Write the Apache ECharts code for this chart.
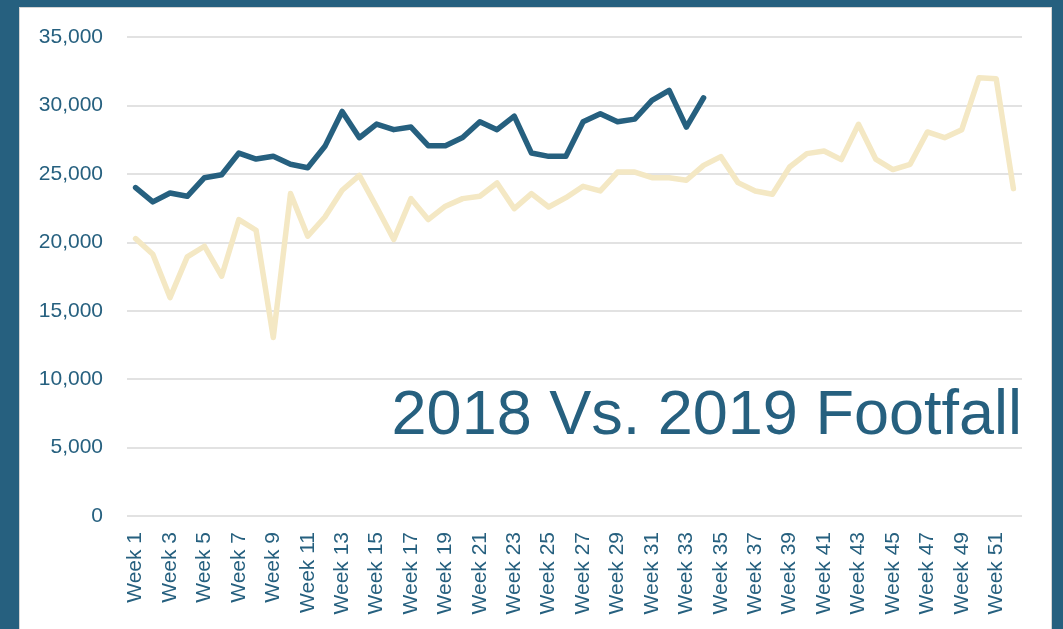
<!DOCTYPE html>
<html>
<head>
<meta charset="utf-8">
<script src="https://cdn.jsdelivr.net/npm/echarts@6/dist/echarts.min.js"></script>
<style>
  html, body { margin: 0; padding: 0; }
  body { width: 1063px; height: 629px; background: #26607f; position: relative; overflow: hidden; }
  #frame { position: absolute; left: 19px; top: 7px; width: 1031px; height: 640px; background: #fff; border: 1px solid #d4d4d4; }
  #main { position: absolute; left: 0; top: 0; width: 1063px; height: 629px; }
</style>
</head>
<body>
<div id="frame"></div>
<div id="main"></div>
<script>
// weeks 1..52
var weeks = []
for (var w = 1; w <= 52; w++) weeks.push('Week ' + w)

// 2019 footfall (only up to week 34)
var footfall2019 = [24000, 22950, 23600, 23360, 24720, 24940, 26520, 26080, 26280, 25700,
  25450, 27010, 29560, 27640, 28640, 28230, 28420, 27060, 27060, 27650,
  28810, 28230, 29220, 26520, 26280, 26280, 28810, 29400, 28810, 29000,
  30370, 31100, 28420, 30560]

// 2018 footfall
var footfall2018 = [20270, 19130, 15960, 18930, 19710, 17520, 21660, 20880, 13040, 23560,
  20440, 21850, 23800, 24890, 22580, 20200, 23190, 21660, 22640, 23190,
  23360, 24330, 22460, 23560, 22580, 23260, 24090, 23750, 25130, 25130,
  24720, 24720, 24530, 25620, 26260, 24360, 23750, 23510, 25500, 26480,
  26670, 26040, 28620, 26080, 25310, 25700, 28060, 27640, 28230, 32030,
  31950, 23920]

var yTicks = { min: 0, max: 35000, interval: 5000 }

var blue = '#26607f'
var beige = '#f4e8c4'

var chart = echarts.init(document.getElementById('main'))

var option = {
  backgroundColor: 'transparent',
  animation: false,
  grid: {
    left: 127,
    right: 41,
    top: 37,
    bottom: 113
  },
  xAxis: {
    type: 'category',
    data: weeks,
    boundaryGap: true,
    axisLine: { show: false },
    axisTick: { show: false },
    axisLabel: {
      interval: 1,
      rotate: 90,
      margin: 16,
      color: blue,
      fontSize: 21,
      fontFamily: 'Liberation Sans'
    }
  },
  yAxis: {
    type: 'value',
    min: yTicks.min,
    max: yTicks.max,
    interval: yTicks.interval,
    axisLine: { show: false },
    axisTick: { show: false },
    axisLabel: {
      margin: 24,
      color: blue,
      fontSize: 21,
      fontFamily: 'Liberation Sans',
      formatter: function (v) { return v.toLocaleString('en-US') }
    },
    splitLine: {
      lineStyle: { color: '#d9d9d9', width: 1.5 }
    }
  },
  graphic: [{
    type: 'text',
    right: 41,
    top: 385,
    style: {
      text: '2018 Vs. 2019 Footfall',
      fill: blue,
      font: '63px "Liberation Sans"'
    }
  }],
  series: [{
    name: '2018',
    type: 'line',
    data: footfall2018,
    showSymbol: false,
    lineStyle: { color: beige, width: 5.5, cap: 'round', join: 'round' },
    z: 2
  }, {
    name: '2019',
    type: 'line',
    data: footfall2019,
    showSymbol: false,
    lineStyle: { color: blue, width: 5.5, cap: 'round', join: 'round' },
    z: 3
  }]
}

chart.setOption(option)
</script>
</body>
</html>
